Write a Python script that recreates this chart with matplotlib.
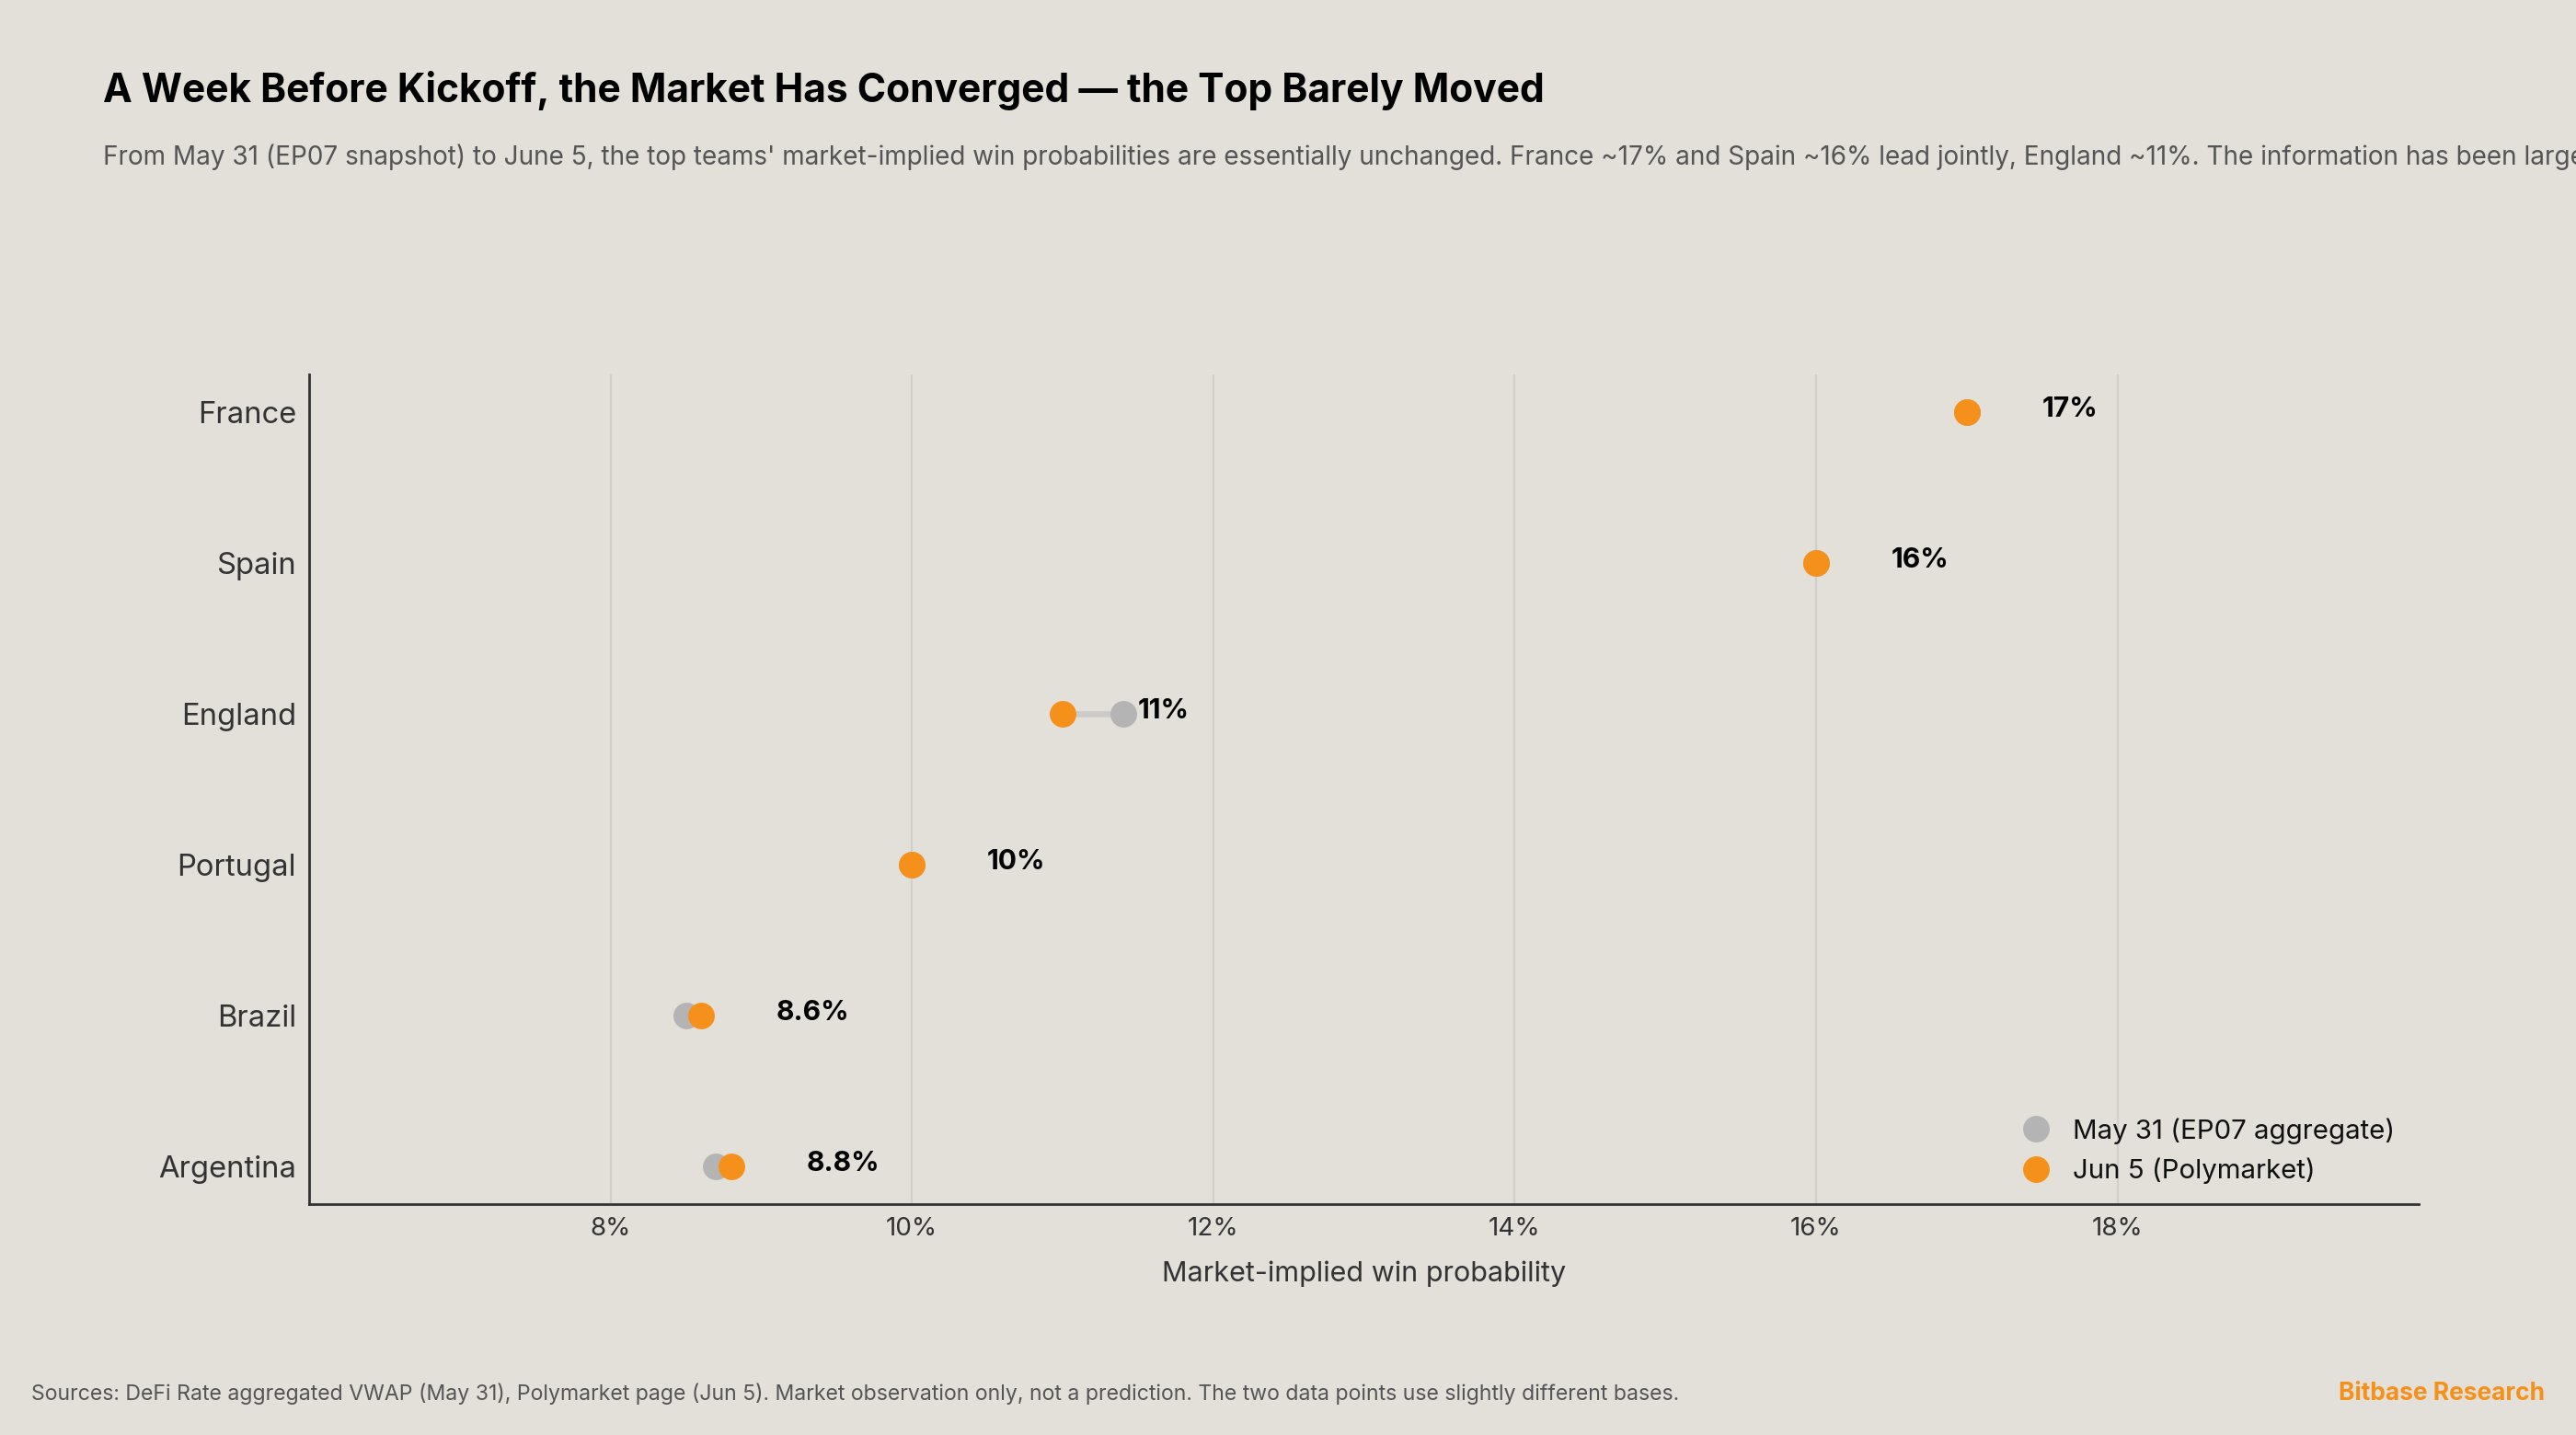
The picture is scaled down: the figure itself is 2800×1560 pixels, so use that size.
import matplotlib
matplotlib.use("Agg")
import matplotlib.pyplot as plt

plt.rcParams['font.family'] = ['Inter', 'DejaVu Sans']

# ---- data ----
teams = ["France", "Spain", "England", "Portugal", "Brazil", "Argentina"]
may31 = [17.0, 16.0, 11.4, 10.0, 8.5, 8.7]
jun5 = [17.0, 16.0, 11.0, 10.0, 8.6, 8.8]
xticks = [8, 10, 12, 14, 16, 18]
xtick_labels = ["8%", "10%", "12%", "14%", "16%", "18%"]
series_labels = ["May 31 (EP07 aggregate)", "Jun 5 (Polymarket)"]

title = "A Week Before Kickoff, the Market Has Converged \u2014 the Top Barely Moved"
subtitle = ("From May 31 (EP07 snapshot) to June 5, the top teams' market-implied win probabilities are "
            "essentially unchanged. France ~17% and Spain ~16% lead jointly, England ~11%. "
            "The information has been largely digested.")
footer = ("Sources: DeFi Rate aggregated VWAP (May 31), Polymarket page (Jun 5). Market observation only, "
          "not a prediction. The two data points use slightly different bases.")
brand = "Bitbase Research"

BG = "#E3DFD9"
ORANGE = "#F5911A"
GRAY = "#B4B4B4"
LINE = "#CDCBC8"

fig = plt.figure(figsize=(14, 7.8), dpi=200, facecolor=BG)
ax = fig.add_axes([0.12, 0.161, 0.819, 0.578], facecolor=BG)

n = len(teams)
ys = [n - 1 - i for i in range(n)]

for y, a, b in zip(ys, may31, jun5):
    ax.plot([a, b], [y, y], color=LINE, lw=2.4, solid_capstyle='butt', zorder=2)
ax.plot(may31, ys, 'o', color=GRAY, ms=10.4, mec='none', zorder=3, label=series_labels[0])
ax.plot(jun5, ys, 'o', color=ORANGE, ms=10.4, mec='none', zorder=4, label=series_labels[1])

for y, v in zip(ys, jun5):
    ax.text(v + 0.5, y + 0.02, f"{v:g}%", fontsize=10.8, fontweight='bold', color='black',
            ha='left', va='center', zorder=5)

ax.set_xlim(6, 20)
ax.set_ylim(-0.25, n - 1 + 0.25)
ax.set_xticks(xticks)
ax.set_xticklabels(xtick_labels, fontsize=10, color='#333333')
ax.set_yticks(ys)
ax.set_yticklabels(teams, fontsize=11.8, color='#333333')
ax.tick_params(axis='both', length=0, pad=5)
ax.grid(axis='x', color='#D2CEC8', lw=0.8, zorder=0)
ax.set_axisbelow(True)
for s in ['top', 'right']:
    ax.spines[s].set_visible(False)
for s in ['left', 'bottom']:
    ax.spines[s].set_color('#333333')
    ax.spines[s].set_linewidth(1.0)
ax.set_xlabel("Market-implied win probability", fontsize=11, color='#333333', labelpad=8)

leg = ax.legend(loc='lower right', bbox_to_anchor=(1.0, -0.005), frameon=False, fontsize=10.6,
                labelspacing=0.5, handletextpad=0.55, handlelength=1.6, markerscale=1.0)
for t in leg.get_texts():
    t.set_color('#111111')

fig.text(0.04, 0.929, title, fontsize=15.3, fontweight='bold', color='black', ha='left', va='baseline')
fig.text(0.04, 0.885, subtitle, fontsize=10.05, color='#555555', ha='left', va='baseline')
fig.text(0.012, 0.0244, footer, fontsize=8.3, color='#555555', ha='left', va='baseline')
fig.text(0.988, 0.0244, brand, fontsize=9.5, fontweight='bold', color=ORANGE, ha='right', va='baseline')

fig.savefig("out.png", dpi=200, facecolor=BG)
